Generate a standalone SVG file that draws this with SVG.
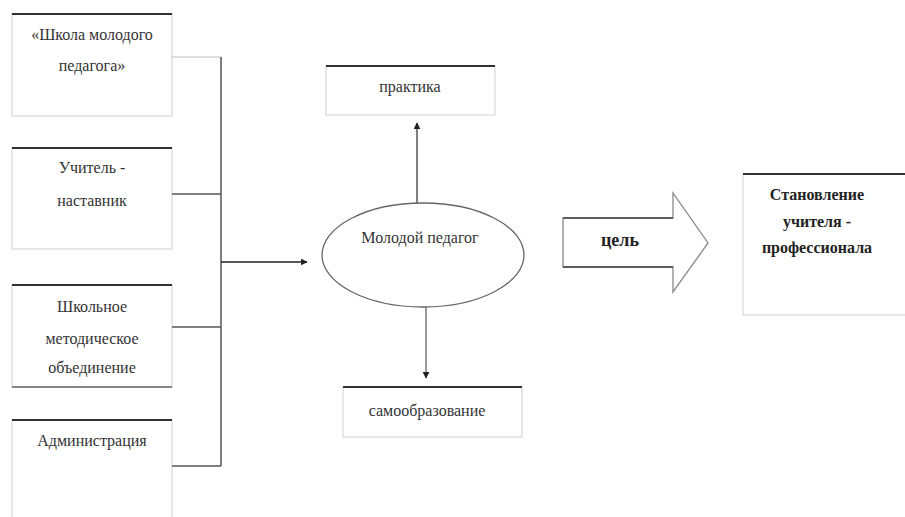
<svg xmlns="http://www.w3.org/2000/svg" width="905" height="517" viewBox="0 0 905 517" font-family="'Liberation Serif', 'DejaVu Serif', serif">
<style>
.t{font-family:'Liberation Serif','DejaVu Serif',serif;font-size:16px;fill:#333;text-anchor:middle}
.b{font-weight:bold;fill:#222}
.box{fill:#fff;stroke:#cfcfcf;stroke-width:1}
.top{stroke:#333;stroke-width:2}
.ln{stroke:#555;stroke-width:1.5;fill:none}
.lt{stroke:#bbb;stroke-width:1.2;fill:none}
</style>
<defs>
<marker id="ah" viewBox="0 0 10 10" refX="9" refY="5" markerWidth="7" markerHeight="7" orient="auto" markerUnits="userSpaceOnUse">
<path d="M0,0 L10,5 L0,10 z" fill="#222"/>
</marker>
</defs>
<rect width="905" height="517" fill="#fff"/>
<g id="school">
<rect class="box" x="12" y="14" width="160" height="102"/>
<line class="top" x1="12" y1="14" x2="172" y2="14"/>
<text class="t" x="92" y="40">«Школа молодого</text>
<text class="t" x="92" y="71">педагога»</text>
</g>
<g id="mentor">
<rect class="box" x="12" y="148" width="160" height="101"/>
<line class="top" x1="12" y1="148" x2="172" y2="148"/>
<text class="t" x="92" y="173">Учитель -</text>
<text class="t" x="92" y="206">наставник</text>
</g>
<g id="method">
<rect class="box" x="12" y="285" width="160" height="102"/>
<line class="top" x1="12" y1="285" x2="172" y2="285"/>
<line x1="12" y1="387" x2="172" y2="387" stroke="#666" stroke-width="1.5"/>
<text class="t" x="92" y="312">Школьное</text>
<text class="t" x="92" y="344">методическое</text>
<text class="t" x="92" y="373">объединение</text>
</g>
<g id="admin">
<rect class="box" x="12" y="420" width="160" height="110"/>
<line class="top" x1="12" y1="420" x2="172" y2="420"/>
<text class="t" x="92" y="446">Администрация</text>
</g>
<g id="practice">
<rect class="box" x="326" y="66" width="169" height="49"/>
<line class="top" x1="326" y1="66" x2="495" y2="66"/>
<text class="t" x="410" y="92">практика</text>
</g>
<g id="young">
<ellipse cx="423" cy="255" rx="101" ry="52" fill="#fff" stroke="#666" stroke-width="1.3"/>
<text class="t" x="420" y="243">Молодой педагог</text>
</g>
<g id="selfedu">
<rect class="box" x="343" y="387" width="179" height="50"/>
<line class="top" x1="343" y1="387" x2="522" y2="387" stroke="#555"/>
<text class="t" x="427" y="416">самообразование</text>
</g>
<g id="goal">
<path d="M563,218 L673,218 L673,193 L708,243 L673,292 L673,267 L563,267 Z" fill="#fff" stroke="#888" stroke-width="1.3"/>
<line x1="563" y1="218" x2="673" y2="218" stroke="#444" stroke-width="1.5"/>
<line x1="563" y1="267" x2="673" y2="267" stroke="#444" stroke-width="1.5"/>
<text class="t b" x="620" y="246" style="font-size:18px">цель</text>
</g>
<g id="result">
<rect class="box" x="743" y="174" width="170" height="141"/>
<line class="top" x1="743" y1="174" x2="905" y2="174"/>
<text class="t b" x="817" y="200">Становление</text>
<text class="t b" x="817" y="227">учителя -</text>
<text class="t b" x="817" y="253">профессионала</text>
</g>
<g id="connectors">
<line class="lt" x1="172" y1="57" x2="221" y2="57"/>
<line class="ln" x1="221" y1="57" x2="221" y2="466" stroke="#888"/>
<line class="ln" x1="172" y1="194" x2="221" y2="194" stroke="#222"/>
<line class="ln" x1="172" y1="327" x2="221" y2="327" stroke="#666"/>
<line class="ln" x1="172" y1="466" x2="221" y2="466" stroke="#666"/>
<line x1="221" y1="262" x2="307" y2="262" stroke="#222" stroke-width="1.3" marker-end="url(#ah)"/>
<line x1="417" y1="203" x2="417" y2="123" stroke="#555" stroke-width="1.5" marker-end="url(#ah)"/>
<line x1="426" y1="307" x2="426" y2="378" stroke="#555" stroke-width="1.2" marker-end="url(#ah)"/>
</g>
</svg>
